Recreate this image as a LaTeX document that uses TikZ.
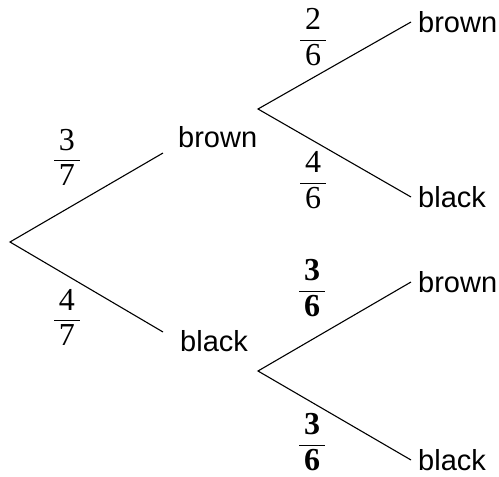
\documentclass[tikz,border=0pt]{standalone}
\usepackage{amsmath}
\usepackage{fontspec}
\setmainfont{Liberation Serif}
\setsansfont{Liberation Sans}
\usepackage{tikz}

\newcommand{\pfrac}[2]{$\dfrac{\text{\kern5pt#1\kern5pt}}{\text{\kern5pt#2\kern5pt}}$}

\begin{document}
\begin{tikzpicture}[x=1pt, y=-1pt,
        branch/.style={line width=1.1pt},
        colour/.style={font=\sffamily\fontsize{29}{34}\selectfont, inner sep=0pt, anchor=west},
        prob/.style={font=\fontsize{32}{38}\selectfont, inner sep=0pt}]
                    \useasboundingbox (0,0) rectangle (499,477);
                    \coordinate (R) at (10, 242);
                    \coordinate (A) at (163, 153);
                    \coordinate (B) at (163, 332);
                    \coordinate (S) at (258, 109);
                    \coordinate (T) at (258, 371);
                    \node[colour] (brownA) at (178, 137) {brown};
                    \node[colour] (blackB) at (180, 341) {black};
                    \node[colour, inner xsep=7pt] (brownS) at (411, 22) {brown};
                    \node[colour, inner xsep=7pt] (blackS) at (411, 197) {black};
                    \node[colour, inner xsep=7pt] (brownT) at (411, 282) {brown};
                    \node[colour, inner xsep=7pt] (blackT) at (411, 460) {black};
                    \draw[branch] (A) -- (R) -- (B);
                    \draw[branch] (brownS.west) -- (S) -- (blackS.west);
                    \draw[branch] (brownT.west) -- (T) -- (blackT.west);
                    \node[prob] (pA) at (67, 157) {\pfrac{3}{7}};
                    \node[prob] (pB) at (67, 317) {\pfrac{4}{7}};
                    \node[prob] (pSA) at (313, 37) {\pfrac{2}{6}};
                    \node[prob] (pSB) at (313, 180) {\pfrac{4}{6}};
                    \node[prob] (pTA) at (312, 288) {\pfrac{\textbf{3}}{\textbf{6}}};
                    \node[prob] (pTB) at (312, 442) {\pfrac{\textbf{3}}{\textbf{6}}};
                \end{tikzpicture}
\end{document}
